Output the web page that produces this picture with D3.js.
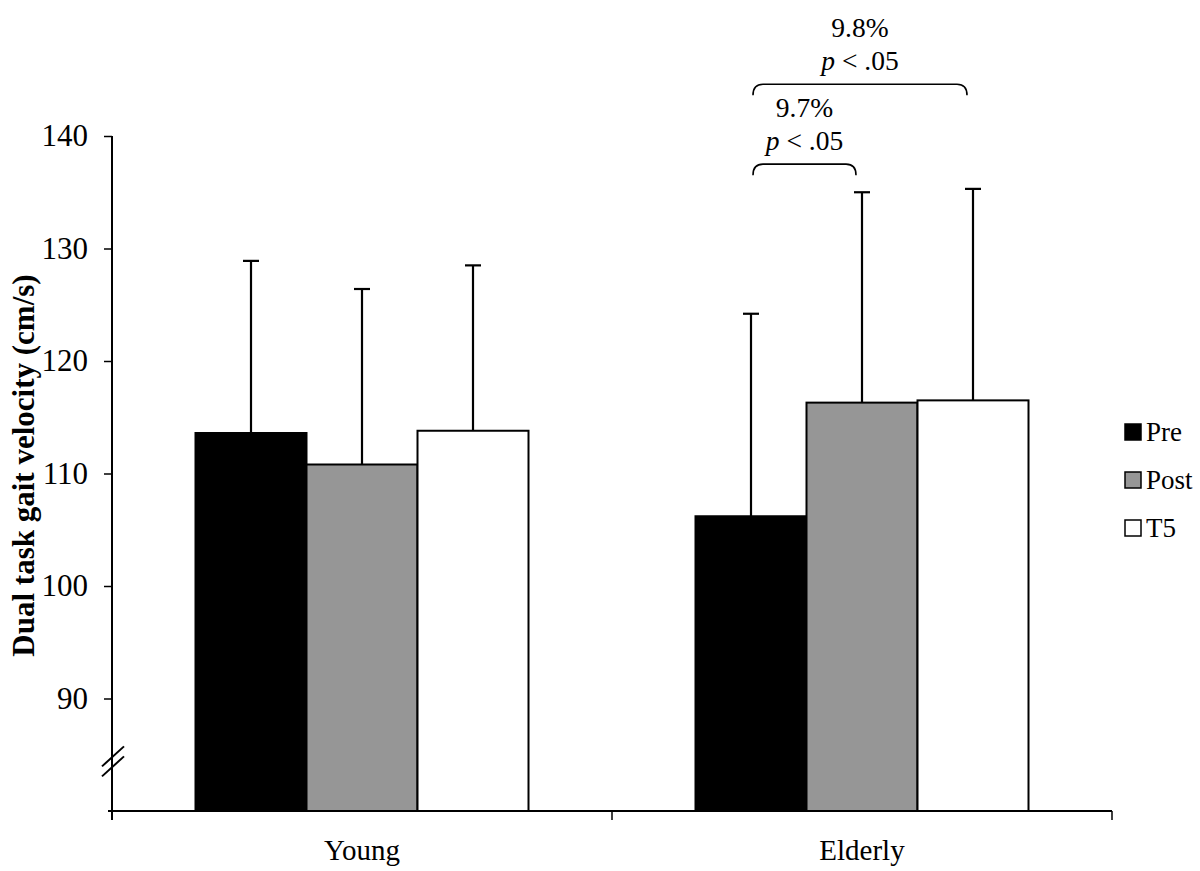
<!DOCTYPE html>
<html>
<head>
<meta charset="utf-8">
<script src="https://cdn.jsdelivr.net/npm/d3@7"></script>
<style>
  html, body { margin: 0; padding: 0; background: #fff; }
  svg { display: block; }
  text { font-family: "Liberation Serif", "Times New Roman", serif; fill: #000; }
</style>
</head>
<body>
<svg id="chart" width="1200" height="871"></svg>
<script>
// ---- data ----
const groups = ["Young", "Elderly"];
const seriesNames = ["Pre", "Post", "T5"];
const seriesColors = ["#000000", "#969696", "#ffffff"];
const meanYoung = [113.6, 110.8, 113.8];
const meanElderly = [106.2, 116.3, 116.5];
const sdYoung = [15.3, 15.6, 14.7];
const sdElderly = [18.0, 18.7, 18.8];
const yTicks = [90, 100, 110, 120, 130, 140];
const yLabel = "Dual task gait velocity (cm/s)";
// significance brackets (Elderly group): from series, to series, level, percent
const sigFrom = ["Pre", "Pre"];
const sigTo = ["Post", "T5"];
const sigLevel = [137.5, 144.6];
const sigPct = ["9.7%", "9.8%"];

const means = [meanYoung, meanElderly];
const sds = [sdYoung, sdElderly];
const data = [];
groups.forEach((g, gi) => seriesNames.forEach((s, si) => {
  data.push({ group: g, series: s, value: means[gi][si], sd: sds[gi][si], color: seriesColors[si] });
}));

const svg = d3.select("#chart");
const pL = 112, pR = 1112, pT = 136, pB = 811;

const y = d3.scaleLinear().domain([80, 140]).range([pB, pT]);
const x0 = d3.scaleBand().domain(groups).range([pL, pR]).paddingInner(0).paddingOuter(0);
const groupW = 333;
const x1 = d3.scaleBand().domain(seriesNames).range([0, groupW]).padding(0);
const gx = g => x0(g) + (x0.bandwidth() - groupW) / 2;

// bars
svg.append("g").selectAll("rect").data(data).join("rect")
  .attr("x", d => gx(d.group) + x1(d.series))
  .attr("y", d => y(d.value))
  .attr("width", x1.bandwidth())
  .attr("height", d => y(80) - y(d.value))
  .attr("fill", d => d.color)
  .attr("stroke", "#000")
  .attr("stroke-width", 2);

// error bars (upper only)
const eb = svg.append("g").attr("stroke", "#000").attr("stroke-width", 2.2);
data.forEach(d => {
  const cx = gx(d.group) + x1(d.series) + x1.bandwidth() / 2;
  eb.append("line").attr("x1", cx).attr("x2", cx).attr("y1", y(d.value)).attr("y2", y(d.value + d.sd));
  eb.append("line").attr("x1", cx - 8).attr("x2", cx + 8).attr("y1", y(d.value + d.sd)).attr("y2", y(d.value + d.sd));
});

// y axis
const yAxis = d3.axisLeft(y).tickValues(yTicks).tickSize(8).tickPadding(16);
const yg = svg.append("g").attr("transform", `translate(${pL},0)`).call(yAxis);
yg.select(".domain").remove();
yg.selectAll("line").attr("stroke", "#000").attr("stroke-width", 1.5);
yg.selectAll("text").attr("font-size", 31).attr("font-family", "Liberation Serif").attr("fill", "#000");
svg.append("line").attr("x1", pL).attr("x2", pL).attr("y1", pT).attr("y2", pB + 9)
  .attr("stroke", "#000").attr("stroke-width", 2);

// break marks
const brk = svg.append("g").attr("stroke", "#000").attr("stroke-width", 2);
[0, 10].forEach(dy => {
  brk.append("line").attr("x1", pL - 10).attr("y1", y(84.5) + 6 + dy).attr("x2", pL + 12).attr("y2", y(84.5) - 14 + dy);
});

// x axis
svg.append("line").attr("x1", pL - 4).attr("x2", pR).attr("y1", pB).attr("y2", pB)
  .attr("stroke", "#000").attr("stroke-width", 2);
const xTickPos = [pL, pL + x0.bandwidth(), pR];
svg.append("g").selectAll("line").data(xTickPos).join("line")
  .attr("x1", d => d).attr("x2", d => d).attr("y1", pB).attr("y2", pB + 9)
  .attr("stroke", "#000").attr("stroke-width", 1.5);
svg.append("g").selectAll("text").data(groups).join("text")
  .attr("x", d => x0(d) + x0.bandwidth() / 2)
  .attr("y", pB + 49)
  .attr("text-anchor", "middle")
  .attr("font-size", 29)
  .text(d => d);

// y label
svg.append("text")
  .attr("transform", `translate(34,${(pT + pB) / 2 - 8}) rotate(-90)`)
  .attr("text-anchor", "middle")
  .attr("font-weight", "bold")
  .attr("font-size", 31)
  .text(yLabel);

// legend
const lg = svg.append("g");
seriesNames.forEach((s, i) => {
  const ly = 424 + i * 48;
  lg.append("rect").attr("x", 1125).attr("y", ly).attr("width", 16).attr("height", 16)
    .attr("fill", seriesColors[i]).attr("stroke", "#000").attr("stroke-width", 1.5);
  lg.append("text").attr("x", 1146).attr("y", ly + 17).attr("font-size", 27).text(s);
});

// significance brackets
const cxOf = (g, s) => gx(g) + x1(s) + x1.bandwidth() / 2;
sigFrom.forEach((f, i) => {
  const xa = cxOf("Elderly", f) + 2;
  const xb = cxOf("Elderly", sigTo[i]) - 6;
  const yl = y(sigLevel[i]);
  const r = 10;
  const p = d3.path();
  p.moveTo(xa, yl + 11);
  p.quadraticCurveTo(xa, yl, xa + r, yl);
  p.lineTo(xb - r, yl);
  p.quadraticCurveTo(xb, yl, xb, yl + 11);
  svg.append("path").attr("d", p.toString()).attr("fill", "none").attr("stroke", "#000").attr("stroke-width", 1.6);
  const mx = (xa + xb) / 2;
  svg.append("text").attr("x", mx).attr("y", yl - 47).attr("text-anchor", "middle").attr("font-size", 27.5).text(sigPct[i]);
  const t = svg.append("text").attr("x", mx).attr("y", yl - 14).attr("text-anchor", "middle").attr("font-size", 27.5);
  t.append("tspan").attr("font-style", "italic").text("p");
  t.append("tspan").text(" < .05");
});
</script>
</body>
</html>
